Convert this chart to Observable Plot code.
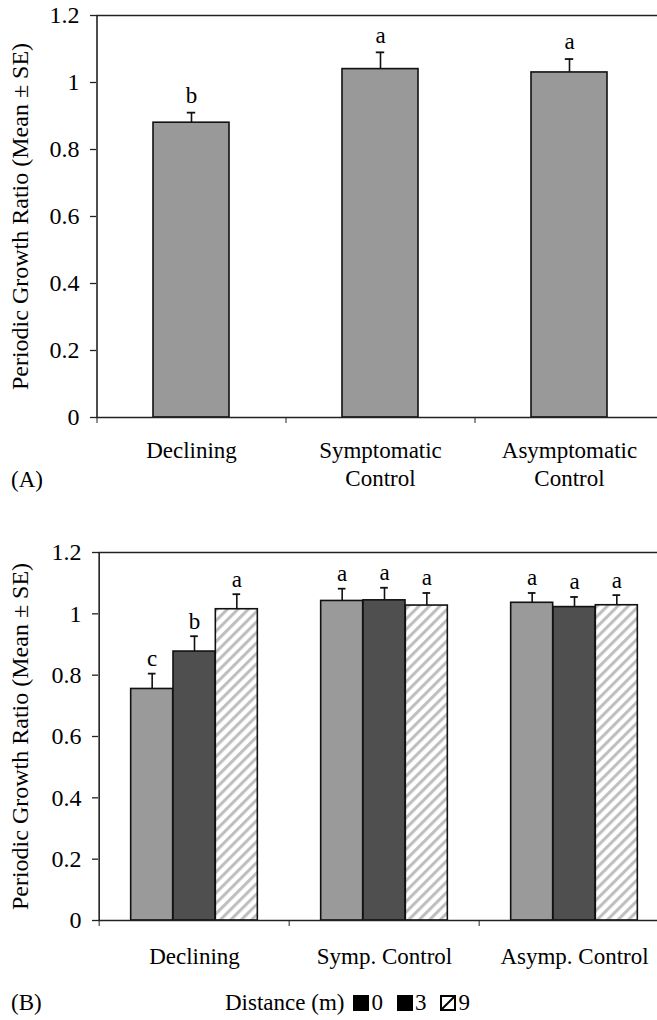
<!DOCTYPE html>
<html>
<head>
<meta charset="utf-8">
<script src="https://cdn.jsdelivr.net/npm/d3@7"></script>
<script src="https://cdn.jsdelivr.net/npm/@observablehq/plot@0.6"></script>
<style>
  html, body { margin: 0; padding: 0; background: #fff; }
  #wrap { position: relative; width: 657px; height: 1020px; overflow: hidden; font-family: "Liberation Serif", "Times New Roman", serif; color: #000; }
  .panel { position: absolute; left: 0; }
  .tag { position: absolute; left: 11px; font-size: 23px; line-height: 23px; }
  #legend { position: absolute; left: 225px; top: 991px; font-size: 23px; line-height: 23px; display: flex; align-items: center; white-space: nowrap; }
  #legend .sw { margin-right: 2px; display: inline-block; }
</style>
</head>
<body>
<svg width="0" height="0" style="position:absolute">
  <defs>
    <pattern id="hatch" patternUnits="userSpaceOnUse" width="7.4" height="7.4" patternTransform="rotate(45)">
      <rect width="7.4" height="7.4" fill="#ffffff"></rect>
      <line x1="1.6" y1="0" x2="1.6" y2="7.4" stroke="#bdbdbd" stroke-width="3"></line>
    </pattern>
  </defs>
</svg>
<div id="wrap">
  <div class="panel" id="panelA" style="top:0px"></div>
  <div class="tag" style="top:468px">(A)</div>
  <div class="panel" id="panelB" style="top:520px"></div>
  <div class="tag" style="top:991px">(B)</div>
  <div id="legend"></div>
</div>
<script>
// ---------- data ----------
const yTicks = [0, 0.2, 0.4, 0.6, 0.8, 1, 1.2];
const yTickLabels = ["0", "0.2", "0.4", "0.6", "0.8", "1", "1.2"];
const yLabel = "Periodic Growth Ratio (Mean ± SE)";

// Panel A
const categoriesA = ["Declining", "Symptomatic Control", "Asymptomatic Control"];
const tickLabelsA = ["Declining", "Symptomatic\nControl", "Asymptomatic\nControl"];
const meanA = [0.88, 1.04, 1.03];
const seA = [0.03, 0.05, 0.04];
const lettersA = ["b", "a", "a"];

// Panel B
const categoriesB = ["Declining", "Symp. Control", "Asymp. Control"];
const distances = ["0", "3", "9"];
const meanB0 = [0.755, 1.042, 1.036];
const seB0 = [0.05, 0.040, 0.032];
const lettersB0 = ["c", "a", "a"];
const meanB3 = [0.877, 1.044, 1.022];
const seB3 = [0.050, 0.041, 0.033];
const lettersB3 = ["b", "a", "a"];
const meanB9 = [1.015, 1.027, 1.028];
const seB9 = [0.049, 0.041, 0.033];
const lettersB9 = ["a", "a", "a"];

// ---------- styles ----------
const font = '"Liberation Serif", "Times New Roman", serif';
const barStroke = "#111";
const axisColor = "#222";
const fillA = "#999999";
const fillsB = ["#9a9a9a", "#4f4f4f", "url(#hatch)"];
const W = 657;
const fs = 23;
const fsTick = 24;
const yFmt = d => yTickLabels[yTicks.indexOf(d)];

// ---------- Panel A ----------
const dataA = categoriesA.map((c, i) => ({cat: c, mean: meanA[i], se: seA[i], letter: lettersA[i]}));
const rangeA = [96, 663];
const stepA = (rangeA[1] - rangeA[0]) / categoriesA.length;
const padInA = 0.6;
const bwA = stepA * (1 - padInA);
const capW = 8;

const plotA = Plot.plot({
  width: W, height: 500,
  marginTop: 15, marginBottom: 83, marginLeft: 96, marginRight: 0,
  style: {fontFamily: font, fontSize: fs + "px", color: "#000", background: "transparent", overflow: "visible"},
  x: {domain: categoriesA, range: rangeA, paddingInner: padInA, paddingOuter: padInA / 2},
  y: {domain: [0, 1.2]},
  marks: [
    Plot.barY(dataA, {x: "cat", y: "mean", fill: fillA, stroke: barStroke, strokeWidth: 1.6}),
    Plot.ruleX(dataA, {x: "cat", y1: "mean", y2: d => d.mean + d.se, stroke: barStroke, strokeWidth: 1.6}),
    Plot.tickY(dataA, {x: "cat", y: d => d.mean + d.se, stroke: barStroke, strokeWidth: 1.8, insetLeft: (bwA - capW) / 2, insetRight: (bwA - capW) / 2}),
    Plot.text(dataA, {x: "cat", y: d => d.mean + d.se, text: "letter", dy: -17, fontSize: fs}),
    Plot.ruleY([0], {stroke: axisColor, strokeWidth: 1.6}),
    Plot.ruleY([yTicks[yTicks.length - 1]], {stroke: axisColor, strokeWidth: 1.6}),
    Plot.ruleX([categoriesA[0]], {dx: -stepA / 2, stroke: axisColor, strokeWidth: 1.6}),
    Plot.axisY({ticks: yTicks, tickFormat: yFmt, tickSize: 6, tickPadding: 11, fontSize: fsTick, stroke: axisColor, strokeWidth: 1.3,
      label: yLabel, labelAnchor: "center", labelOffset: 86, labelArrow: "none"}),
    Plot.axisX({tickSize: 6, tickFormat: () => "", dx: -stepA / 2, stroke: axisColor, strokeWidth: 1, label: null}),
    Plot.axisX({tickSize: 0, tickPadding: 21, fontSize: fs, lineHeight: 1.22, label: null,
      tickFormat: d => tickLabelsA[categoriesA.indexOf(d)]})
  ]
});
document.getElementById("panelA").appendChild(plotA);

// ---------- Panel B ----------
const seriesB = [
  {dist: distances[0], mean: meanB0, se: seB0, letters: lettersB0},
  {dist: distances[1], mean: meanB3, se: seB3, letters: lettersB3},
  {dist: distances[2], mean: meanB9, se: seB9, letters: lettersB9}
];
const rangeB = [98, 670];
const stepB = (rangeB[1] - rangeB[0]) / categoriesB.length;
const padInB = 0.778;
const bwB = stepB * (1 - padInB);

const marksB = [];
seriesB.forEach((s, k) => {
  const data = categoriesB.map((c, i) => ({cat: c, mean: s.mean[i], se: s.se[i], letter: s.letters[i]}));
  const dx = (k - 1) * bwB;
  marksB.push(
    Plot.barY(data, {x: "cat", y: "mean", fill: fillsB[k], stroke: barStroke, strokeWidth: 1.6, dx}),
    Plot.ruleX(data, {x: "cat", y1: "mean", y2: d => d.mean + d.se, stroke: barStroke, strokeWidth: 1.6, dx}),
    Plot.tickY(data, {x: "cat", y: d => d.mean + d.se, stroke: barStroke, strokeWidth: 1.8, dx,
      insetLeft: (bwB - capW) / 2, insetRight: (bwB - capW) / 2}),
    Plot.text(data, {x: "cat", y: d => d.mean + d.se, text: "letter", dy: -15, dx, fontSize: fs})
  );
});

const plotB = Plot.plot({
  width: W, height: 500,
  marginTop: 32, marginBottom: 100, marginLeft: 98, marginRight: 0,
  style: {fontFamily: font, fontSize: fs + "px", color: "#000", background: "transparent", overflow: "visible"},
  x: {domain: categoriesB, range: rangeB, paddingInner: padInB, paddingOuter: padInB / 2},
  y: {domain: [0, 1.2]},
  marks: [
    ...marksB,
    Plot.ruleY([0], {stroke: axisColor, strokeWidth: 1.6}),
    Plot.ruleY([yTicks[yTicks.length - 1]], {stroke: axisColor, strokeWidth: 1.6}),
    Plot.ruleX([categoriesB[0]], {dx: -stepB / 2, stroke: axisColor, strokeWidth: 1.6}),
    Plot.axisY({ticks: yTicks, tickFormat: yFmt, tickSize: 6, tickPadding: 11, fontSize: fsTick, stroke: axisColor, strokeWidth: 1.3,
      label: yLabel, labelAnchor: "center", labelOffset: 88, labelArrow: "none"}),
    Plot.axisX({tickSize: 6, tickFormat: () => "", dx: -stepB / 2, stroke: axisColor, strokeWidth: 1, label: null}),
    Plot.axisX({tickSize: 0, tickPadding: 27, fontSize: fs, label: null})
  ]
});
document.getElementById("panelB").appendChild(plotB);

// ---------- Legend ----------
const legend = document.getElementById("legend");
const lt = document.createElement("span");
lt.textContent = "Distance (m)";
legend.appendChild(lt);
distances.forEach((d, k) => {
  const sw = document.createElementNS("http://www.w3.org/2000/svg", "svg");
  sw.setAttribute("width", 16); sw.setAttribute("height", 16);
  sw.setAttribute("class", "sw");
  if (k < 2) {
    sw.innerHTML = '<rect x="0" y="0" width="16" height="16" fill="#000"></rect>';
  } else {
    sw.innerHTML = '<rect x="1" y="1" width="14" height="14" fill="#fff" stroke="#000" stroke-width="2"></rect><line x1="1" y1="15" x2="15" y2="1" stroke="#000" stroke-width="2"></line>';
  }
  sw.style.marginLeft = k === 0 ? "9px" : "14px";
  legend.appendChild(sw);
  const t = document.createElement("span");
  t.textContent = d;
  legend.appendChild(t);
});
</script>
</body>
</html>
